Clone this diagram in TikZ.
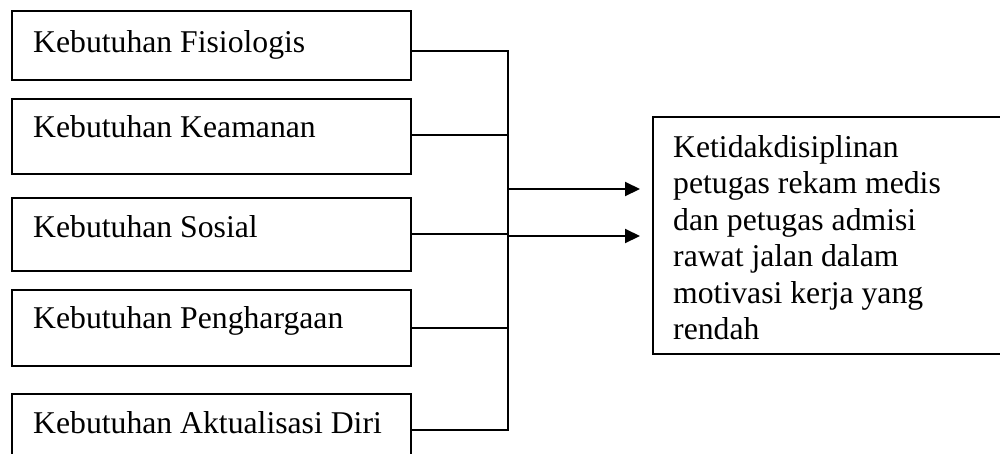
\documentclass[tikz,border=0pt]{standalone}
\usepackage{fontspec}
\setmainfont{Liberation Serif}
\usetikzlibrary{arrows.meta}
\begin{document}
\begin{tikzpicture}[x=1pt,y=-1pt,
  box/.style={draw, line width=2pt, anchor=north west, inner sep=0pt},
  lbl/.style={anchor=base west, inner sep=0pt, font=\fontsize{31.7}{36.5}\selectfont},
  conn/.style={line width=2pt},
  arr/.style={line width=2pt, -{Triangle[length=15pt,width=14pt]}}]
\clip (0,0) rectangle (1000,453);
\fill[white] (0,0) rectangle (1000,453);
% left boxes
\node[box, minimum width=399pt, minimum height=69pt] (b1) at (11,10) {};
\node[lbl] (t1) at (33,52) {Kebutuhan Fisiologis};
\node[box, minimum width=399pt, minimum height=75pt] (b2) at (11,98) {};
\node[lbl] (t2) at (33,137) {Kebutuhan Keamanan};
\node[box, minimum width=399pt, minimum height=73pt] (b3) at (11,197) {};
\node[lbl] (t3) at (33,237) {Kebutuhan Sosial};
\node[box, minimum width=399pt, minimum height=76pt] (b4) at (11,289) {};
\node[lbl] (t4) at (33,328) {Kebutuhan Penghargaan};
\node[box, minimum width=399pt, minimum height=80pt] (b5) at (11,393) {};
\node[lbl] (t5) at (33,433) {Kebutuhan Aktualisasi Diri};
% right box
\node[box, minimum width=380pt, minimum height=237pt] (rb) at (652,116) {};
\node[anchor=north west, inner sep=0pt, align=left,
  font=\fontsize{31.7}{36.5}\selectfont] (rt) at (673,135)
  {Ketidakdisiplinan\\petugas rekam medis\\dan petugas admisi\\rawat jalan dalam\\motivasi kerja yang\\rendah};
% junction
\coordinate (jtop) at (508,51);
\coordinate (jbot) at (508,430);
\coordinate (a1) at (508,189);
\coordinate (a2) at (508,236);
\draw[conn] (b1.east |- jtop) -- (jtop) -- (jbot) -- (b5.east |- jbot);
\draw[conn] (b2.east |- 0,135) -- (508,135);
\draw[conn] (b3.east |- 0,234) -- (508,234);
\draw[conn] (b4.east |- 0,328) -- (508,328);
\draw[arr, shorten >=12pt] (a1) -- (a1 -| rb.west);
\draw[arr, shorten >=12pt] (a2) -- (a2 -| rb.west);
\end{tikzpicture}
\end{document}
